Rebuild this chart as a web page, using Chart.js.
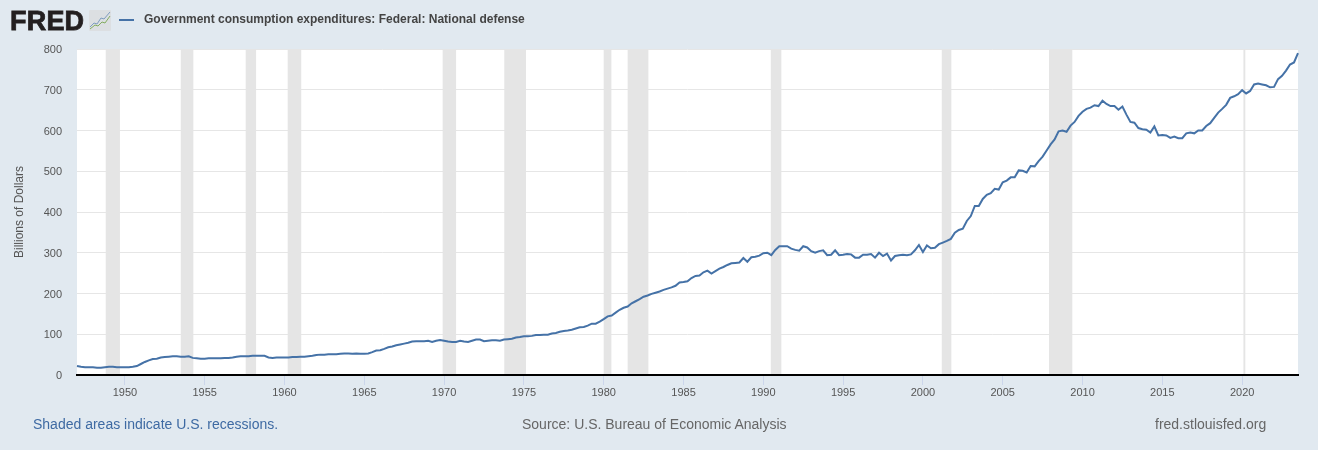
<!DOCTYPE html>
<html>
<head>
<meta charset="utf-8">
<script src="https://cdn.jsdelivr.net/npm/chart.js@4"></script>
<style>
  html, body { margin: 0; padding: 0; background: #e1e9f0; }
  #wrap { position: relative; width: 1318px; height: 450px; overflow: hidden; font-family: "Liberation Sans", Arial, sans-serif; }
  #wrap div, #wrap svg { position: absolute; white-space: nowrap; }
  canvas { position: absolute; left: 0; top: 0; }
  #logo { left: 10px; top: 4px; font-size: 27px; line-height: 34px; font-weight: bold; color: #231f20; letter-spacing: 0.2px; -webkit-text-stroke: 0.8px #231f20; }
  #swatch { left: 119px; top: 19px; width: 15px; height: 2px; background: #4572a7; }
  #legend { left: 144px; top: 12px; font-size: 12px; line-height: 15px; font-weight: bold; color: #444; }
  .foot { top: 416px; font-size: 14px; line-height: 17px; }
</style>
</head>
<body>
<div id="wrap">
  <canvas id="fredChart" width="1318" height="450"></canvas>
  <div id="logo">FRED</div>
  <svg style="left:89px;top:10px" width="22" height="21" viewBox="0 0 22 21">
    <rect x="0" y="0" width="22" height="21" rx="1" fill="#dcdfe2"/>
    <polyline points="1,17 5,13 8,14 12,8 15,9 21,2" fill="none" stroke="#7f9dbf" stroke-width="1"/>
    <polyline points="1,19 6,15 9,16 13,12 16,13 21,6" fill="none" stroke="#84ad60" stroke-width="1"/>
  </svg>
  <div id="swatch"></div>
  <div id="legend">Government consumption expenditures: Federal: National defense</div>
  <div class="foot" style="left:33px;color:#3e6aa3">Shaded areas indicate U.S. recessions.</div>
  <div class="foot" style="left:522px;color:#666">Source: U.S. Bureau of Economic Analysis</div>
  <div class="foot" style="left:1155px;color:#666">fred.stlouisfed.org</div>
</div>

<script>
// quarterly values, billions of dollars, one row per year
const values1947to1959 = [
  22, 20, 19, 19,
  19, 18, 18, 19,
  20, 20, 19, 19,
  19, 19, 20, 22,
  27, 32, 36, 39,
  40, 43, 44, 45,
  46, 46, 45, 45,
  46, 42, 41, 40,
  40, 41, 41, 41,
  41, 42, 42, 43,
  45, 46, 46, 46,
  47, 47, 47, 47,
  43, 42, 43, 43
];
const values1960to1974 = [
  43, 43, 44, 44,
  45, 45, 46, 47,
  49, 50, 50, 51,
  51, 51, 52, 53,
  53, 52, 53, 52,
  52, 53, 56, 60,
  61, 64, 68, 70,
  73, 75, 77, 79,
  82, 83, 83, 83,
  84, 81, 84, 86,
  84, 82, 81, 81,
  84, 82, 81, 84,
  87, 87, 83, 84,
  85, 85, 84, 87,
  88, 89, 92, 93
];
const values1975to1989 = [
  95, 95, 96, 98,
  98, 99, 99, 102,
  103, 106, 108, 109,
  111, 114, 117, 118,
  121, 126, 126, 131,
  137, 144, 146, 153,
  160, 165, 168, 176,
  181, 186, 192, 195,
  199, 202, 205, 209,
  212, 215, 219, 227,
  228, 230, 238, 243,
  244, 252, 256, 249,
  255, 261, 265, 270,
  274, 275, 276, 287,
  278, 289, 290, 293
];
const values1990to2004 = [
  299, 300, 294, 307,
  316, 316, 316, 310,
  307, 305, 316, 313,
  304, 300, 304, 306,
  294, 295, 306, 294,
  295, 297, 296, 288,
  288, 295, 295, 297,
  288, 300, 292, 298,
  281, 292, 294, 295,
  294, 296, 306, 319,
  302, 318, 311, 312,
  321, 325, 329, 334,
  349, 356, 359, 378,
  390, 415, 415, 432,
  442, 446, 457, 455
];
const values2005to2023 = [
  473, 477, 485, 485,
  502, 501, 497, 513,
  512, 525, 536, 551,
  566, 578, 598, 600,
  597, 612, 621, 636,
  646, 653, 656, 662,
  660, 673, 665, 660,
  660, 651, 659, 639,
  621, 619, 606, 603,
  602, 595, 610, 588,
  589, 588, 582, 585,
  581, 581, 593, 595,
  593, 600, 600, 611,
  618, 631, 644, 653,
  663, 680, 684, 689,
  699, 691, 697, 713,
  715, 713, 711, 706,
  707, 726, 734, 747,
  762, 767, 790
];

const startYear = 1947;
const yearTicks = [1950, 1955, 1960, 1965, 1970, 1975, 1980, 1985, 1990, 1995, 2000, 2005, 2010, 2015, 2020];
const valueTicks = [0, 100, 200, 300, 400, 500, 600, 700, 800];
const recessionStarts = [1948.8, 1953.5, 1957.57, 1960.2, 1969.91, 1973.77, 1980.0, 1981.5, 1990.47, 2001.18, 2007.9, 2020.08];
const recessionEnds = [1949.69, 1954.29, 1958.22, 1961.05, 1970.75, 1975.13, 1980.48, 1982.8, 1991.13, 2001.78, 2009.36, 2020.2];

const allValues = [...values1947to1959, ...values1960to1974, ...values1975to1989, ...values1990to2004, ...values2005to2023];
const points = allValues.map((v, i) => ({ x: startYear + i / 4, y: v }));

// grey bands go over the grid but under the line, stopping at the black axis line
const recessionBands = {
  id: 'recessionBands',
  beforeDatasetsDraw(chart) {
    const { ctx, chartArea, scales } = chart;
    ctx.save();
    ctx.fillStyle = '#e5e5e5';
    recessionStarts.forEach((start, i) => {
      const x0 = scales.x.getPixelForValue(start);
      const x1 = scales.x.getPixelForValue(recessionEnds[i]);
      ctx.fillRect(x0, chartArea.top, x1 - x0, chartArea.bottom - chartArea.top - 1);
    });
    ctx.restore();
  }
};

// white plot background, painted before the grid
const plotBackground = {
  id: 'plotBackground',
  beforeDraw(chart) {
    const { ctx, chartArea } = chart;
    ctx.save();
    ctx.fillStyle = '#ffffff';
    ctx.fillRect(chartArea.left, chartArea.top, chartArea.right - chartArea.left, chartArea.bottom - chartArea.top);
    ctx.restore();
  }
};

new Chart(document.getElementById('fredChart').getContext('2d'), {
  type: 'line',
  data: {
    datasets: [{
      label: 'Government consumption expenditures: Federal: National defense',
      data: points,
      borderColor: '#4572a7',
      borderWidth: 2,
      pointRadius: 0,
      tension: 0,
      clip: false
    }]
  },
  plugins: [plotBackground, recessionBands],
  options: {
    responsive: false,
    animation: false,
    layout: { padding: { top: 49, right: 20, bottom: 48, left: 0 } },
    plugins: { legend: { display: false }, tooltip: { enabled: false } },
    scales: {
      x: {
        type: 'linear',
        min: startYear,
        max: 2023.5,
        afterBuildTicks(axis) { axis.ticks = yearTicks.map(v => ({ value: v })); },
        afterFit(axis) { axis.height = 27; },
        grid: { drawOnChartArea: false, tickLength: 10, tickColor: '#ccd6eb', tickWidth: 1 },
        border: { display: true, color: '#000000', width: 2 },
        ticks: {
          autoSkip: false,
          maxRotation: 0,
          padding: 1,
          color: '#555',
          font: { family: '"Liberation Sans", Arial, sans-serif', size: 11 },
          callback: v => String(v)
        }
      },
      y: {
        type: 'linear',
        min: 0,
        max: 800,
        afterBuildTicks(axis) { axis.ticks = valueTicks.map(v => ({ value: v })); },
        afterFit(axis) { axis.width = 77; },
        grid: { color: '#e6e6e6', lineWidth: 1, drawTicks: false },
        border: { display: false },
        ticks: {
          padding: 15,
          labelOffset: 1,
          color: '#555',
          font: { family: '"Liberation Sans", Arial, sans-serif', size: 11 }
        },
        title: {
          display: true,
          text: 'Billions of Dollars',
          color: '#555',
          padding: { top: 12, bottom: 0 },
          font: { family: '"Liberation Sans", Arial, sans-serif', size: 12, weight: 'normal' }
        }
      }
    }
  }
});
</script>
</body>
</html>
